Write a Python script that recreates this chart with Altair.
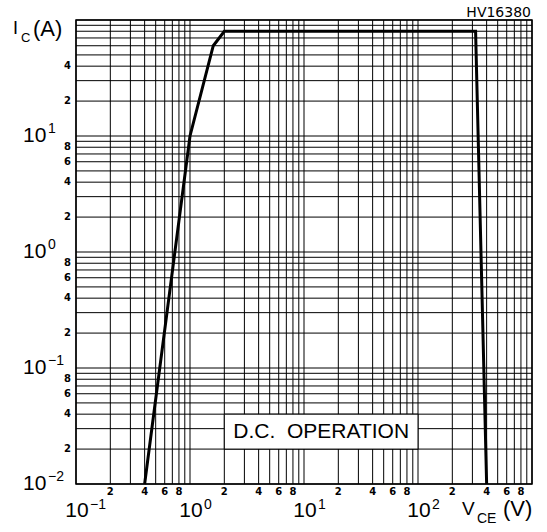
import altair as alt
import pandas as pd

# ---- data ----
vce = [0.4, 1.0, 1.6, 2.0, 320, 400]
ic = [0.01, 10, 60, 80, 80, 0.01]

x_decades = [0.1, 1, 10, 100]
x_decade_exp = ["−1", "0", "1", "2"]
y_decades = [0.01, 0.1, 1, 10]
y_decade_exp = ["−2", "−1", "0", "1"]
grid_mults = [1, 2, 3, 4, 5, 6, 7, 8, 9]
minor_mults = [2, 4, 6, 8]
y_minor_top_mults = [2, 4]          # last decade shows only 2 and 4
box_x = [2, 100]
box_y = [0.02, 0.04]
box_text = "D.C.\u00a0 OPERATION"
code_text = "HV16380"

FONT = "Liberation Sans"
SMALL = "DejaVu Sans"
xs = alt.Scale(type="log", domain=[0.1, 1000], nice=False)
ys = alt.Scale(type="log", domain=[0.01, 100], nice=False)

curve_df = pd.DataFrame({"x": vce, "y": ic})
xgrid = pd.DataFrame({"v": [m * d for d in x_decades for m in grid_mults] + [1000]})
ygrid = pd.DataFrame({"v": [m * d for d in y_decades for m in grid_mults] + [100]})

xbig = pd.DataFrame({"v": x_decades, "e": x_decade_exp})
ybig = pd.DataFrame({"v": y_decades, "e": y_decade_exp})
xminor = pd.DataFrame({"v": [m * d for d in x_decades for m in minor_mults],
                       "t": [str(m) for d in x_decades for m in minor_mults]})
yv, yt = [], []
for i, d in enumerate(y_decades):
    mm = y_minor_top_mults if i == len(y_decades) - 1 else minor_mults
    for m in mm:
        yv.append(m * d)
        yt.append(str(m))
yminor = pd.DataFrame({"v": yv, "t": yt})
box_df = pd.DataFrame({"x": [box_x[0]], "x2": [box_x[1]], "y": [box_y[0]], "y2": [box_y[1]],
                       "xm": [(box_x[0] * box_x[1]) ** 0.5], "ym": [(box_y[0] * box_y[1]) ** 0.5],
                       "t": [box_text]})
one = pd.DataFrame({"a": [0]})

X = lambda f: alt.X(f, type="quantitative", scale=xs, axis=None)
Y = lambda f: alt.Y(f, type="quantitative", scale=ys, axis=None)

vgrid = alt.Chart(xgrid).mark_rule(color="black", strokeWidth=1).encode(x=X("v"))
hgrid = alt.Chart(ygrid).mark_rule(color="black", strokeWidth=1).encode(y=Y("v"))

box = alt.Chart(box_df).mark_rect(fill="white", stroke="black", strokeWidth=1).encode(
    x=X("x"), x2="x2", y=Y("y"), y2="y2")
box_t = alt.Chart(box_df).mark_text(font=FONT, fontSize=21, align="center",
                                   baseline="middle", color="black").encode(
    x=X("xm"), y=Y("ym"), text="t:N")

curve = alt.Chart(curve_df).mark_line(color="black", strokeWidth=3, strokeJoin="miter").encode(
    x=X("x"), y=Y("y"))

# x axis labels
xb = alt.Chart(xbig).mark_text(font=FONT, fontSize=21, align="center", color="black",
                               baseline="middle", dx=1).encode(
    x=X("v"), y=alt.value(491), text=alt.value("10"))
xe = alt.Chart(xbig).mark_text(font=FONT, fontSize=14, align="left", color="black",
                               baseline="middle", dx=14).encode(
    x=X("v"), y=alt.value(485), text="e:N")
xm = alt.Chart(xminor).mark_text(font=SMALL, fontSize=10, fontWeight="bold", align="center",
                                 color="black", baseline="middle").encode(
    x=X("v"), y=alt.value(472), text="t:N")

# y axis labels
yb = alt.Chart(ybig).mark_text(font=FONT, fontSize=21, align="left", color="black",
                               baseline="middle").encode(
    y=Y("v"), x=alt.value(-53), text=alt.value("10"))
ye = alt.Chart(ybig).mark_text(font=FONT, fontSize=14, align="left", color="black",
                               baseline="middle", dy=-7).encode(
    y=Y("v"), x=alt.value(-28), text="e:N")
ym = alt.Chart(yminor).mark_text(font=SMALL, fontSize=10, fontWeight="bold", align="right",
                                 color="black", baseline="middle").encode(
    y=Y("v"), x=alt.value(-5), text="t:N")


def txt(s, x, y, size, align="left", font=FONT):
    return alt.Chart(one).mark_text(font=font, fontSize=size, align=align,
                                    baseline="alphabetic", color="black").encode(
        x=alt.value(x), y=alt.value(y), text=alt.value(s))


titles = [
    txt("I", -63, 14, 18),
    txt("C", -55, 22, 13),
    txt("(A)", -43, 16, 22),
    txt("V", 386, 495, 19),
    txt("CE", 401, 503, 14),
    txt("(V)", 427, 496, 22),
    txt(code_text, 455, -3, 14, align="right", font=SMALL),
]

chart = alt.layer(vgrid, hgrid, box, box_t, curve, xb, xe, xm, yb, ye, ym, *titles).properties(
    width=456, height=464,
    autosize=alt.AutoSizeParams(type="none"),
    padding={"left": 76, "top": 20, "right": 15, "bottom": 48},
    background="white",
).configure_view(stroke="black", strokeWidth=1.5)

chart.save("out.html", embed_options={"renderer": "svg", "actions": False})
